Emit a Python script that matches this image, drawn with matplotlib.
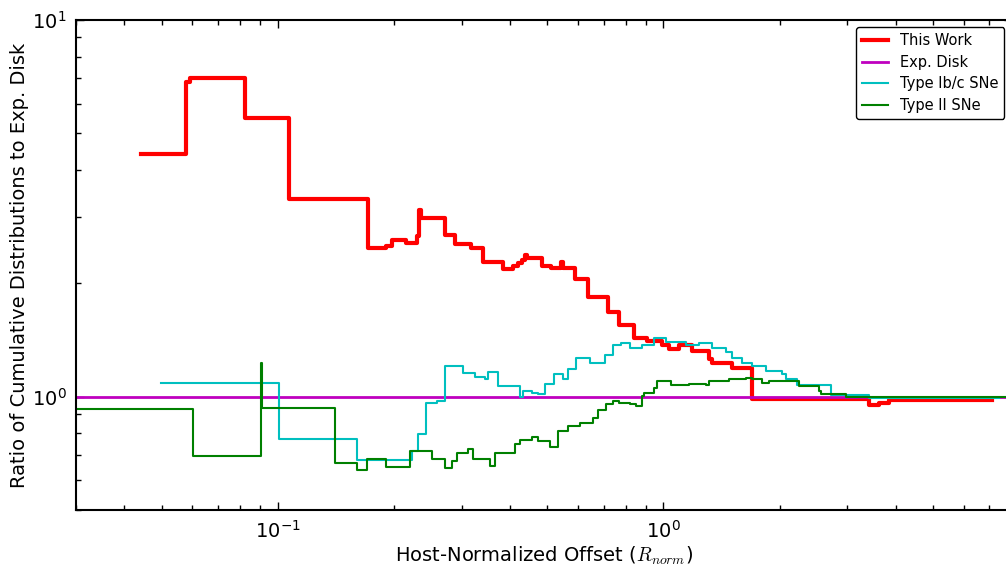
import numpy as np
import matplotlib
matplotlib.use("Agg")
import matplotlib.pyplot as plt
from matplotlib.ticker import NullFormatter

plt.rcParams['mathtext.fontset'] = 'cm'
plt.rcParams['xtick.direction'] = 'in'
plt.rcParams['ytick.direction'] = 'in'
plt.rcParams['xtick.top'] = True
plt.rcParams['ytick.right'] = True

# ratio of cumulative distributions (step starts)
work_x = [0.04416, 0.05777, 0.05916, 0.08212, 0.1068, 0.1711, 0.1905, 0.1974,
          0.2146, 0.2292, 0.2319, 0.2347, 0.2708, 0.2874, 0.3162, 0.3397,
          0.3827, 0.4063, 0.4186, 0.4287, 0.4365, 0.4417, 0.4830, 0.5097,
          0.5411, 0.5475, 0.5882, 0.6355, 0.7160, 0.7691, 0.8412, 0.9090,
          0.994, 1.036, 1.100, 1.189, 1.316, 1.339, 1.509, 1.701, 3.418,
          3.628, 3.850, 7.116]
work_y = [4.401, 6.841, 7.013, 5.487, 3.342, 2.475, 2.506, 2.600,
          2.552, 2.665, 3.124, 2.974, 2.681, 2.536, 2.475, 2.272,
          2.176, 2.217, 2.258, 2.300, 2.371, 2.328, 2.217, 2.190,
          2.272, 2.190, 2.048, 1.834, 1.673, 1.545, 1.435, 1.409,
          1.367, 1.334, 1.367, 1.325, 1.262, 1.231, 1.194, 0.988, 0.952,
          0.964, 0.982, 0.982]

disk_x = [0.03, 8.0]
disk_y = [1.0, 1.0]

ibc_x = [0.04975, 0.1006, 0.1602, 0.2224, 0.2305, 0.2417, 0.2582, 0.2708,
         0.3014, 0.3238, 0.3438, 0.3500, 0.3715, 0.4236, 0.4311, 0.4550,
         0.4717, 0.4917, 0.5188, 0.5475, 0.5641, 0.5917, 0.6431, 0.7034,
         0.7378, 0.7784, 0.8165, 0.8772, 0.9477, 1.018, 1.147, 1.240,
         1.339, 1.456, 1.509, 1.602, 1.701, 1.848, 2.034, 2.083, 2.224,
         2.724, 3.418, 7.42]
ibc_y = [1.090, 0.773, 0.680, 0.718, 0.797, 0.964, 0.976, 1.209,
         1.158, 1.130, 1.117, 1.166, 1.070, 1.000, 1.037, 1.025,
         1.019, 1.083, 1.151, 1.117, 1.187, 1.270, 1.231, 1.286,
         1.367, 1.384, 1.350, 1.367, 1.435, 1.400, 1.375, 1.384,
         1.350, 1.317, 1.270, 1.231, 1.209, 1.172, 1.151, 1.117, 1.076,
         1.012, 0.994, 0.994]

ii_x = [0.025, 0.06022, 0.09036, 0.0909, 0.1405, 0.1602, 0.1701, 0.1905,
        0.2198, 0.2506, 0.2708, 0.2824, 0.2909, 0.3106, 0.3200, 0.3541,
        0.3649, 0.4111, 0.4236, 0.4550, 0.4717, 0.5066, 0.5314, 0.5641,
        0.6060, 0.6547, 0.6745, 0.7117, 0.7378, 0.7691, 0.8165, 0.8512,
        0.8772, 0.8929, 0.9477, 0.9649, 1.049, 1.168, 1.292, 1.316,
        1.483, 1.641, 1.701, 1.805, 1.882, 2.250, 2.536, 2.567, 2.979, 8.5]
ii_y = [0.929, 0.697, 1.231, 0.935, 0.668, 0.640, 0.684, 0.652,
        0.718, 0.684, 0.647, 0.676, 0.710, 0.727, 0.684, 0.656,
        0.710, 0.750, 0.768, 0.783, 0.764, 0.736, 0.812, 0.837,
        0.853, 0.879, 0.923, 0.958, 0.976, 0.964, 0.958, 0.946,
        1.006, 1.025, 1.057, 1.103, 1.076, 1.083, 1.076, 1.103,
        1.117, 1.123, 1.117, 1.090, 1.103, 1.070, 1.037, 1.019, 1.000, 1.000]

fig = plt.figure(figsize=(10.06, 5.72), dpi=100)
ax = fig.add_axes([0.0757, 0.1084, 0.930, 0.8566])

ax.plot(work_x, work_y, color='r', lw=3, drawstyle='steps-post', label='This Work')
ax.plot(disk_x, disk_y, color='m', lw=2, label='Exp. Disk')
ax.plot(ibc_x, ibc_y, color='c', lw=1.5, drawstyle='steps-post', label='Type Ib/c SNe')
ax.plot(ii_x, ii_y, color='g', lw=1.5, drawstyle='steps-post', label='Type II SNe')

ax.set_xscale('log')
ax.set_yscale('log')
ax.set_xlim(0.03, 8.0)
ax.set_ylim(0.5, 10)
ax.xaxis.set_minor_formatter(NullFormatter())
ax.yaxis.set_minor_formatter(NullFormatter())
ax.tick_params(which='major', length=6, width=1, labelsize=14, pad=7)
ax.tick_params(which='minor', length=3.5, width=1)
for s in ax.spines.values():
    s.set_linewidth(1.5)

ax.set_xlabel('Host-Normalized Offset ($R_{norm}$)', fontsize=14, labelpad=2)
ax.set_ylabel('Ratio of Cumulative Distributions to Exp. Disk', fontsize=14, labelpad=2)

leg = ax.legend(loc='upper right', fontsize=10.5, edgecolor='black', framealpha=1,
                handlelength=1.8, labelspacing=0.45)
leg.get_frame().set_linewidth(1)

fig.savefig('out.png', dpi=100)
